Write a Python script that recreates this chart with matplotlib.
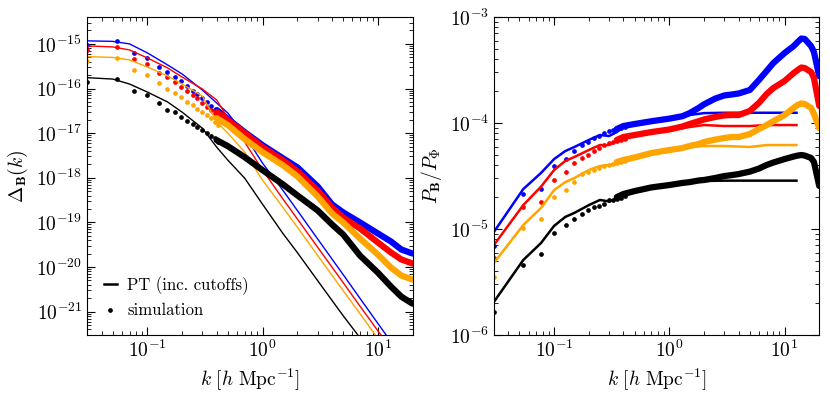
import numpy as np
import matplotlib
matplotlib.use("Agg")
import matplotlib.pyplot as plt
from matplotlib.lines import Line2D

plt.rcParams['font.family'] = 'serif'
plt.rcParams['font.serif'] = ['cmr10', 'DejaVu Serif']
plt.rcParams['mathtext.fontset'] = 'cm'
plt.rcParams['axes.formatter.use_mathtext'] = True
plt.rcParams['font.size'] = 14

colors = ['blue', 'red', 'orange', 'black']

# ---- left panel: Delta_B(k) ----
k_pt = [0.03, 0.05, 0.07, 0.1, 0.15, 0.2, 0.3, 0.4, 0.5, 0.7, 1.0, 1.5, 2, 3, 5, 7, 10, 15, 20]
dB_pt_blue = [1.17e-15, 1.14e-15, 1.0e-15, 6.28e-16, 3.37e-16, 2.12e-16, 9.25e-17, 4.72e-17, 2.81e-17,
              9.0e-18, 2.12e-18, 5.24e-19, 1.86e-19, 4.28e-20, 6.78e-21, 1.99e-21, 5.48e-22, 1.26e-22, 4.49e-23]
dB_pt_red = [9.02e-16, 8.56e-16, 7.33e-16, 4.84e-16, 2.89e-16, 1.81e-16, 9.75e-17, 5.52e-17, 2.17e-17,
             6.28e-18, 1.48e-18, 3.36e-19, 1.2e-19, 2.79e-20, 4.49e-21, 1.33e-21, 3.74e-22, 8.79e-23, 3.12e-23]
dB_pt_orange = [5.19e-16, 4.98e-16, 4.37e-16, 3.04e-16, 1.91e-16, 1.26e-16, 6.78e-17, 1.77e-17, 1.0e-17,
                3.74e-18, 8.79e-19, 2.17e-19, 7.84e-20, 1.83e-20, 2.96e-21, 9.02e-22, 2.51e-22, 5.81e-23, 2.17e-23]
dB_pt_black = [1.75e-16, 1.63e-16, 1.26e-16, 8.34e-17, 4.98e-17, 2.96e-17, 1.29e-17, 4.84e-18, 2.47e-18,
               9.75e-19, 2.54e-19, 5.66e-20, 2.12e-20, 4.98e-21, 8.13e-22, 2.61e-22, 7.14e-23, 1.77e-23, 6.28e-24]

k_dots = [0.03, 0.054, 0.077, 0.100, 0.127, 0.149, 0.173, 0.197, 0.222, 0.247, 0.272, 0.298, 0.326, 0.355, 0.383, 0.41]
dB_dot_blue = [9.5e-16, 1.17e-15, 6.18e-16, 4.84e-16, 3.09e-16, 2.31e-16, 1.84e-16, 1.45e-16, 1.16e-16,
               8.93e-17, 7.52e-17, 6.03e-17, 5.05e-17, 4.05e-17, 3.29e-17, 2.77e-17]
dB_dot_red = [7.33e-16, 8.43e-16, 4.53e-16, 3.5e-16, 2.2e-16, 1.84e-16, 1.42e-16, 1.10e-16, 8.93e-17,
              7.14e-17, 6.03e-17, 4.65e-17, 3.9e-17, 3.29e-17, 2.77e-17, 2.25e-17]
dB_dot_orange = [4.22e-16, 4.78e-16, 2.61e-16, 2.01e-16, 1.35e-16, 9.6e-17, 8.05e-17, 6.55e-17, 5.05e-17,
                 4.26e-17, 3.52e-17, 3.01e-17, 2.54e-17, 2.14e-17, 1.79e-17, 1.51e-17]
dB_dot_black = [1.42e-16, 1.61e-16, 8.93e-17, 7.14e-17, 4.8e-17, 3.29e-17, 3.01e-17, 2.32e-17, 1.89e-17,
                1.59e-17, 1.34e-17, 1.17e-17, 9.84e-18, 8.57e-18, 7.6e-18, 6.37e-18]

k_sim = [0.4, 0.5, 0.7, 1, 1.5, 2, 3, 4, 5, 7, 10, 13, 16, 20]
dB_sim_blue = [3.29e-17, 2.07e-17, 1.05e-17, 5.37e-18, 2.74e-18, 1.72e-18, 6.44e-19, 2.54e-19, 1.68e-19,
               1.0e-19, 5.66e-20, 3.74e-20, 2.47e-20, 2.01e-20]
dB_sim_red = [2.96e-17, 1.96e-17, 1.0e-17, 4.84e-18, 2.47e-18, 1.40e-18, 5.24e-19, 2.17e-19, 1.29e-19,
              7.33e-20, 3.56e-20, 2.12e-20, 1.48e-20, 1.20e-20]
dB_sim_orange = [2.17e-17, 1.51e-17, 7.33e-18, 3.74e-18, 1.91e-18, 1.08e-18, 3.84e-19, 1.59e-19, 1.0e-19,
                 4.37e-20, 1.91e-20, 9.75e-21, 6.44e-21, 5.24e-21]
dB_sim_black = [6.97e-18, 5.1e-18, 2.89e-18, 1.48e-18, 7.14e-19, 4.05e-19, 1.86e-19, 9.02e-20, 5.37e-20,
                1.81e-20, 7.52e-21, 3.65e-21, 2.17e-21, 1.51e-21]

# ---- right panel: P_B / P_Phi ----
k_pt_r = [0.03, 0.054, 0.077, 0.1, 0.125, 0.15, 0.2, 0.25, 0.3, 0.35, 0.4, 0.5, 0.7, 1, 1.5, 2, 3, 5, 7, 10, 12.7]
r_pt_blue = [9.37e-6, 2.38e-5, 3.38e-5, 4.57e-5, 5.44e-5, 5.94e-5, 6.92e-5, 7.71e-5, 7.54e-5, 8.22e-5, 9.17e-5,
             9.68e-5, 1.03e-4, 1.09e-4, 1.19e-4, 1.24e-4, 1.25e-4, 1.25e-4, 1.25e-4, 1.25e-4, 1.25e-4]
r_pt_red = [7.06e-6, 1.68e-5, 2.51e-5, 3.6e-5, 4.39e-5, 4.78e-5, 5.56e-5, 6.2e-5, 6.2e-5, 6.76e-5, 7.22e-5,
            7.54e-5, 8.22e-5, 8.59e-5, 9.17e-5, 9.57e-5, 9.37e-5, 9.37e-5, 9.57e-5, 9.57e-5, 9.57e-5]
r_pt_orange = [4.78e-6, 1.09e-5, 1.58e-5, 2.33e-5, 2.77e-5, 3.03e-5, 3.6e-5, 3.93e-5, 4.02e-5, 4.2e-5, 4.48e-5,
               4.78e-5, 5.21e-5, 5.56e-5, 5.94e-5, 6.07e-5, 6.07e-5, 5.94e-5, 6.2e-5, 6.2e-5, 6.2e-5]
r_pt_black = [2.05e-6, 5.1e-6, 7.38e-6, 1.07e-5, 1.3e-5, 1.42e-5, 1.68e-5, 1.88e-5, 1.82e-5, 1.92e-5, 2.19e-5,
              2.33e-5, 2.47e-5, 2.6e-5, 2.75e-5, 2.84e-5, 2.86e-5, 2.86e-5, 2.86e-5, 2.86e-5, 2.86e-5]

r_dot_blue = [6.92e-6, 2.12e-5, 2.37e-5, 3.95e-5, 4.55e-5, 5.44e-5, 6.2e-5, 6.67e-5, 7.22e-5, 7.54e-5,
              8.05e-5, 8.41e-5, 8.59e-5, 8.78e-5, 8.97e-5, 9.17e-5]
r_dot_red = [5.3e-6, 1.6e-5, 1.81e-5, 2.9e-5, 3.47e-5, 4.17e-5, 4.68e-5, 4.99e-5, 5.44e-5, 5.81e-5,
             6.2e-5, 6.48e-5, 6.62e-5, 6.76e-5, 6.92e-5, 7.14e-5]
r_dot_orange = [3.55e-6, 1.03e-5, 1.24e-5, 2.02e-5, 2.33e-5, 2.76e-5, 3.3e-5, 3.48e-5, 3.6e-5, 3.76e-5,
                3.93e-5, 4.02e-5, 4.1e-5, 4.2e-5, 4.29e-5, 4.39e-5]
r_dot_black = [1.66e-6, 4.57e-6, 5.81e-6, 9.23e-6, 1.09e-5, 1.24e-5, 1.39e-5, 1.51e-5, 1.6e-5, 1.65e-5,
               1.72e-5, 1.88e-5, 1.88e-5, 1.92e-5, 1.96e-5, 2.03e-5]

k_sim_r = [0.35, 0.4, 0.5, 0.7, 1, 1.3, 1.5, 1.8, 2, 2.5, 3, 3.5, 4, 5, 6, 7, 8, 10, 12, 13, 14, 15, 17, 18, 20]
r_sim_blue = [8.78e-5, 9.37e-5, 9.79e-5, 1.04e-4, 1.10e-4, 1.16e-4, 1.24e-4, 1.39e-4, 1.50e-4, 1.70e-4, 1.82e-4,
              1.86e-4, 1.90e-4, 2.05e-4, 2.55e-4, 3.10e-4, 3.68e-4, 4.57e-4, 5.32e-4, 5.81e-4, 6.27e-4, 6.2e-4,
              5.32e-4, 4.68e-4, 2.77e-4]
r_sim_red = [6.92e-5, 7.38e-5, 7.71e-5, 8.22e-5, 8.69e-5, 9.27e-5, 9.79e-5, 1.04e-4, 1.08e-4, 1.14e-4, 1.18e-4,
             1.19e-4, 1.19e-4, 1.30e-4, 1.55e-4, 1.88e-4, 2.14e-4, 2.49e-4, 2.96e-4, 3.16e-4, 3.34e-4, 3.30e-4,
             3.03e-4, 2.66e-4, 1.45e-4]
r_sim_orange = [4.29e-5, 4.48e-5, 4.73e-5, 5.21e-5, 5.56e-5, 5.81e-5, 6.07e-5, 6.34e-5, 6.62e-5, 6.98e-5, 7.22e-5,
                7.38e-5, 7.38e-5, 7.87e-5, 8.78e-5, 9.57e-5, 1.04e-4, 1.19e-4, 1.39e-4, 1.48e-4, 1.53e-4, 1.51e-4,
                1.39e-4, 1.22e-4, 8.97e-5]
r_sim_black = [2.0e-5, 2.14e-5, 2.28e-5, 2.47e-5, 2.6e-5, 2.72e-5, 2.77e-5, 2.87e-5, 2.9e-5, 3.03e-5, 3.16e-5,
               3.23e-5, 3.3e-5, 3.48e-5, 3.72e-5, 4.02e-5, 4.24e-5, 4.57e-5, 4.83e-5, 4.93e-5, 4.99e-5, 4.93e-5,
               4.68e-5, 4.29e-5, 2.55e-5]

left_pt = [dB_pt_blue, dB_pt_red, dB_pt_orange, dB_pt_black]
left_dots = [dB_dot_blue, dB_dot_red, dB_dot_orange, dB_dot_black]
left_sim = [dB_sim_blue, dB_sim_red, dB_sim_orange, dB_sim_black]
right_pt = [r_pt_blue, r_pt_red, r_pt_orange, r_pt_black]
right_dots = [r_dot_blue, r_dot_red, r_dot_orange, r_dot_black]
right_sim = [r_sim_blue, r_sim_red, r_sim_orange, r_sim_black]

fig = plt.figure(figsize=(8.3, 3.96), dpi=100)
ax1 = fig.add_axes([0.105, 0.154, 0.392, 0.803])
ax2 = fig.add_axes([0.595, 0.154, 0.392, 0.803])

# thin = PT, dots + thick = simulation
for c, pt, dots, sim in zip(colors, left_pt, left_dots, left_sim):
    ax1.plot(k_pt, pt, color=c, lw=1.0)
    ax1.plot(k_dots, dots, 'o', color=c, ms=3.4, mew=0)
    ax1.plot(k_sim, sim, color=c, lw=4.5, solid_capstyle='round')

for c, pt, dots, sim in zip(colors, right_pt, right_dots, right_sim):
    ax2.plot(k_pt_r, pt, color=c, lw=1.8)
    ax2.plot(k_dots, dots, 'o', color=c, ms=3.4, mew=0)
    ax2.plot(k_sim_r, sim, color=c, lw=4.5, solid_capstyle='round')

ax1.set_ylim(3e-22, 4e-15)
ax2.set_ylim(1e-6, 1e-3)
for ax in (ax1, ax2):
    ax.set_xscale('log')
    ax.set_yscale('log')
    ax.set_xlim(0.03, 20)
    ax.tick_params(which='both', direction='in', top=True, right=True, labelsize=14)
    ax.tick_params(which='major', length=6, width=0.8)
    ax.tick_params(which='minor', length=3, width=0.6)
    ax.set_xlabel(r'$k\ [h\ \mathrm{Mpc}^{-1}]$', fontsize=14)

ax1.set_ylabel(r'$\Delta_{\mathbf{B}}(k)$', fontsize=14)
ax2.set_ylabel(r'$P_{\mathbf{B}}/P_{\Phi}$', fontsize=14)

handles = [Line2D([], [], color='black', lw=1.8),
           Line2D([], [], color='black', marker='o', ms=3.4, mew=0, ls='none')]
ax1.legend(handles, ['PT (inc. cutoffs)', 'simulation'], loc='lower left', frameon=False,
           fontsize=12, handlelength=0.8, handletextpad=0.6, borderaxespad=0.6)

fig.savefig('out.png', dpi=100)
